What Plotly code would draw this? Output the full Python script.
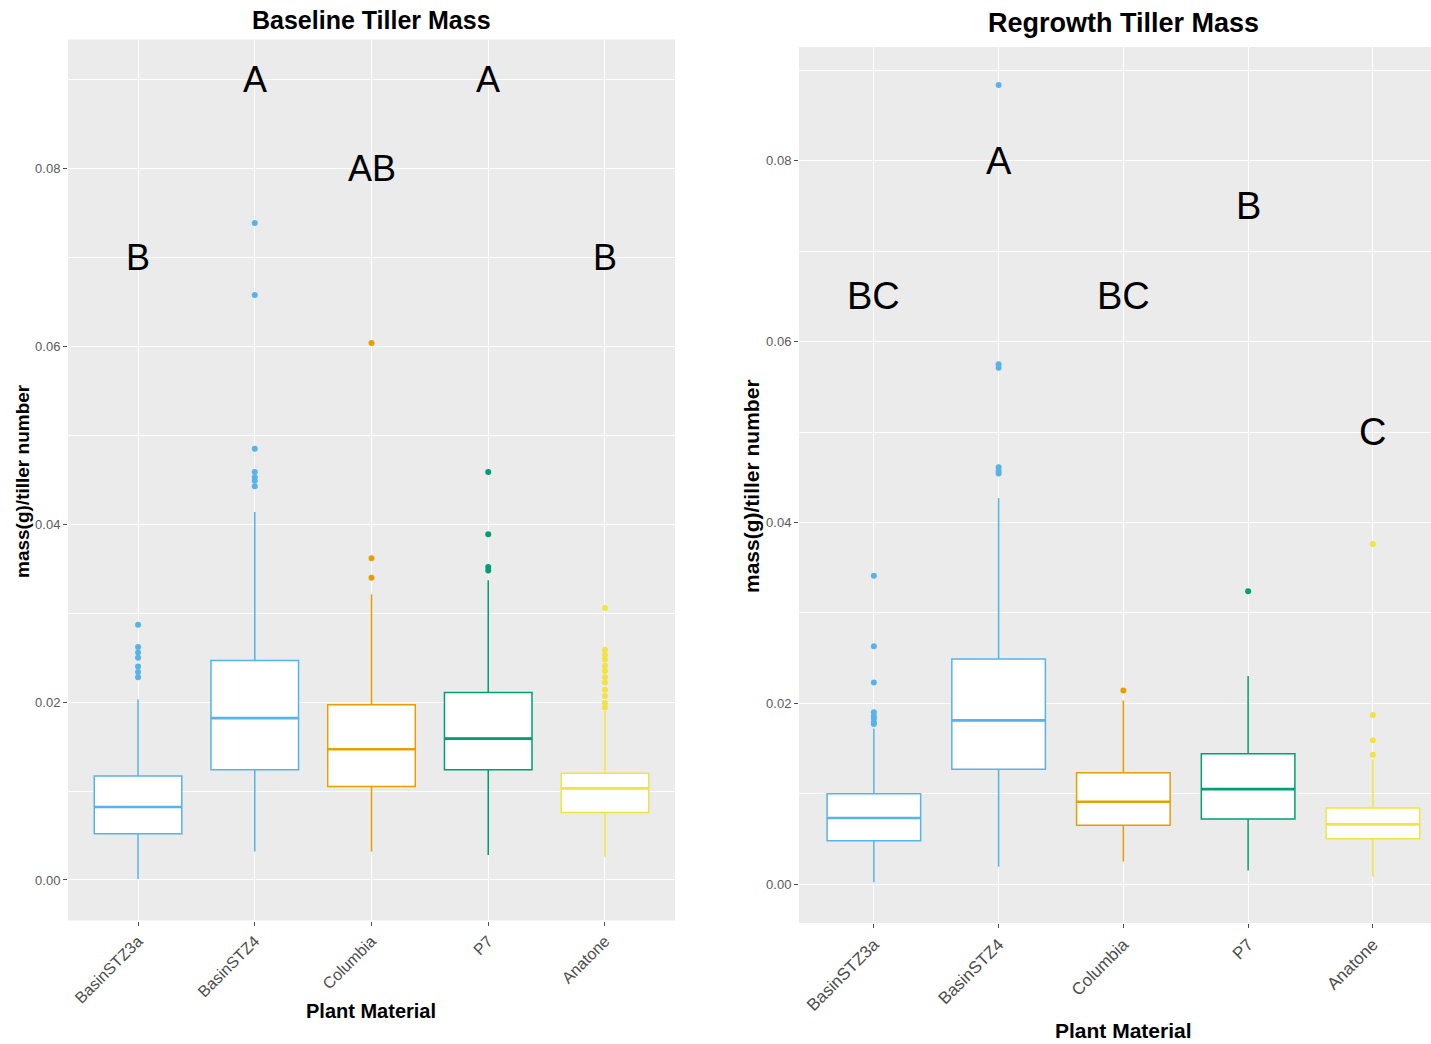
import plotly.graph_objects as go

# Plant materials (shared by both panels)
materials = ["BasinSTZ3a", "BasinSTZ4", "Columbia", "P7", "Anatone"]
colors = ["#56B4E9", "#56B4E9", "#E69F00", "#009E73", "#F0E442"]

# Baseline tiller mass: box statistics
base_lower = [0.0001, 0.0032, 0.0032, 0.0028, 0.0026]
base_q1 = [0.0052, 0.0124, 0.0105, 0.0124, 0.0076]
base_median = [0.0082, 0.0182, 0.0147, 0.0159, 0.0103]
base_q3 = [0.0117, 0.0247, 0.0197, 0.0211, 0.0120]
base_upper = [0.0203, 0.0414, 0.0321, 0.0337, 0.0190]
base_outliers = [
    [0.0287, 0.0262, 0.0256, 0.0250, 0.0240, 0.0234, 0.0228],
    [0.0739, 0.0658, 0.0485, 0.0459, 0.0453, 0.0449, 0.0443],
    [0.0604, 0.0362, 0.0340],
    [0.0459, 0.0389, 0.0352, 0.0348],
    [0.0306, 0.0259, 0.0253, 0.0248, 0.0241, 0.0235, 0.0228, 0.0222,
     0.0214, 0.0207, 0.0199, 0.0194],
]
base_letters = ["B", "A", "AB", "A", "B"]
base_letter_y = [0.070, 0.090, 0.080, 0.090, 0.070]

# Regrowth tiller mass: box statistics
regr_lower = [0.0002, 0.0019, 0.0025, 0.0015, 0.0008]
regr_q1 = [0.0048, 0.0127, 0.0065, 0.0072, 0.0050]
regr_median = [0.0073, 0.0181, 0.0091, 0.0105, 0.0066]
regr_q3 = [0.0100, 0.0249, 0.0123, 0.0144, 0.0084]
regr_upper = [0.0172, 0.0427, 0.0203, 0.0230, 0.0138]
regr_outliers = [
    [0.0341, 0.0263, 0.0223, 0.0190, 0.0186, 0.0183, 0.0179, 0.0177],
    [0.0884, 0.0575, 0.0571, 0.0461, 0.0457, 0.0454],
    [0.0214],
    [0.0324],
    [0.0376, 0.0187, 0.0159, 0.0143],
]
regr_letters = ["BC", "A", "BC", "B", "C"]
regr_letter_y = [0.065, 0.080, 0.065, 0.075, 0.050]

FONT = "Liberation Sans, Arial, sans-serif"
BOX_WIDTH = 0.75

fig = go.Figure()
shapes = []
annotations = []


def add_panel(xa, ya, lower, q1, med, q3, upper, outliers, letters, letter_y,
              letter_size):
    for i, name in enumerate(materials):
        fig.add_trace(go.Box(
            x=[name], q1=[q1[i]], median=[med[i]], q3=[q3[i]],
            lowerfence=[lower[i]], upperfence=[upper[i]],
            boxpoints=False, whiskerwidth=0, width=BOX_WIDTH,
            fillcolor="white", line=dict(color=colors[i], width=1.5),
            xaxis=xa, yaxis=ya, showlegend=False, hoverinfo="skip",
        ))
        fig.add_trace(go.Scatter(
            x=[name] * len(outliers[i]), y=outliers[i], mode="markers",
            marker=dict(color=colors[i], size=6),
            xaxis=xa, yaxis=ya, showlegend=False, hoverinfo="skip",
        ))
        # thicker median bar, as in ggplot boxplots
        shapes.append(dict(
            type="line", xref=xa, yref=ya,
            x0=i - BOX_WIDTH / 2, x1=i + BOX_WIDTH / 2,
            y0=med[i], y1=med[i],
            line=dict(color=colors[i], width=2.6),
        ))
        annotations.append(dict(
            xref=xa, yref=ya, x=name, y=letter_y[i], text=letters[i],
            showarrow=False, yanchor="middle",
            font=dict(family=FONT, size=letter_size, color="black"),
        ))


add_panel("x", "y", base_lower, base_q1, base_median, base_q3, base_upper,
          base_outliers, base_letters, base_letter_y, 36)
add_panel("x2", "y2", regr_lower, regr_q1, regr_median, regr_q3, regr_upper,
          regr_outliers, regr_letters, regr_letter_y, 38)


def y_axis(domain, rng, font_size):
    return dict(
        domain=domain, range=rng, tickvals=[0, 0.02, 0.04, 0.06, 0.08],
        ticktext=["0.00", "0.02", "0.04", "0.06", "0.08"],
        showgrid=True, gridcolor="white", gridwidth=1.4, zeroline=False,
        minor=dict(dtick=0.01, tick0=0, showgrid=True, gridcolor="white",
                   gridwidth=0.6),
        ticks="outside", ticklen=4, tickcolor="#4D4D4D", tickwidth=1,
        tickfont=dict(family=FONT, size=font_size, color="#5A5A5A"),
        showline=False, fixedrange=True,
    )


def x_axis(domain, rng, anchor, font_size):
    return dict(
        domain=domain, range=rng, anchor=anchor, type="category",
        categoryorder="array", categoryarray=materials,
        showgrid=True, gridcolor="white", gridwidth=1.4, zeroline=False,
        ticks="outside", ticklen=4, tickcolor="#4D4D4D", tickwidth=1,
        tickangle=-45,
        tickfont=dict(family=FONT, size=font_size, color="#4D4D4D"),
        showline=False, fixedrange=True,
    )


def text_ann(x, y, text, size, angle=0):
    return dict(xref="paper", yref="paper", x=x, y=y, text=text,
                showarrow=False, textangle=angle, xanchor="center",
                yanchor="middle",
                font=dict(family=FONT, size=size, color="black"))


W, H = 1431, 1044
annotations += [
    text_ann(371 / W, 1 - 20 / H, "<b>Baseline Tiller Mass</b>", 25),
    text_ann(1123 / W, 1 - 23 / H, "<b>Regrowth Tiller Mass</b>", 27),
    text_ann(371 / W, 1 - 1011 / H, "<b>Plant Material</b>", 20),
    text_ann(1123 / W, 1 - 1030 / H, "<b>Plant Material</b>", 21),
    text_ann(22 / W, 1 - 481 / H, "<b>mass(g)/tiller number</b>", 19, -90),
    text_ann(752 / W, 1 - 486 / H, "<b>mass(g)/tiller number</b>", 21, -90),
]

fig.update_layout(
    width=W, height=H, margin=dict(l=0, r=0, t=0, b=0),
    paper_bgcolor="white", plot_bgcolor="#EBEBEB",
    boxmode="overlay",
    xaxis=x_axis([68 / W, 675 / W], [-0.6, 4.6], "y", 16),
    yaxis=y_axis([1 - 920.5 / H, 1 - 39.5 / H], [-0.00456, 0.09454], 13),
    xaxis2=x_axis([799 / W, 1.0], [-0.6, 4.466], "y2", 17),
    yaxis2=dict(y_axis([1 - 923 / H, 1 - 47 / H], [-0.00431, 0.09259], 13),
                anchor="x2"),
    shapes=shapes,
    annotations=annotations,
    font=dict(family=FONT),
)

fig.write_html("out.html")
